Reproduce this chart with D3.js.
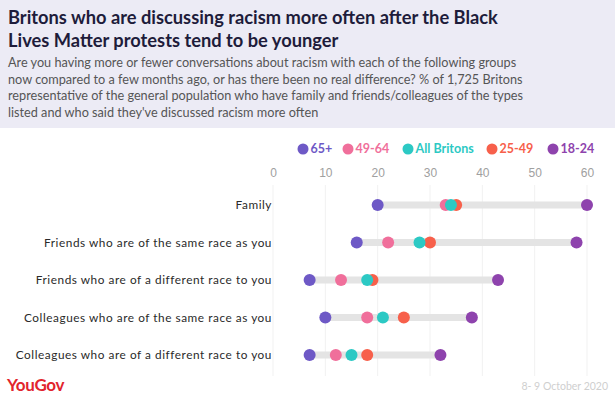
<!DOCTYPE html>
<html>
<head>
<meta charset="utf-8">
<title>Britons discussing racism</title>
<style>
body { margin: 0; background: #fff; }
svg { display: block; font-family: Lato, "Open Sans", sans-serif; }
.tick text { fill: #a0a0a0; font-size: 12px; font-weight: 300; }
.grid line { stroke: #f1f1f1; }
.cat { fill: #2a2a2a; font-size: 11.8px; letter-spacing: 0.55px; }
</style>
</head>
<body>
<script src="https://cdn.jsdelivr.net/npm/d3@7"></script>
<script>
// data
var categories = [
  "Family",
  "Friends who are of the same race as you",
  "Friends who are of a different race to you",
  "Colleagues who are of the same race as you",
  "Colleagues who are of a different race to you"
];
var seriesNames = ["65+", "49-64", "All Britons", "25-49", "18-24"];
var seriesColors = ["#6e59c6", "#f06f9b", "#2cc9c4", "#f7604b", "#8e43ad"];
var age65 = [20, 16, 7, 10, 7];
var age4964 = [33, 22, 13, 18, 12];
var allBritons = [34, 28, 18, 21, 15];
var age2549 = [35, 30, 19, 25, 18];
var age1824 = [60, 58, 43, 38, 32];
var ticks = [0, 10, 20, 30, 40, 50, 60];

var seriesValues = [age65, age4964, allBritons, age2549, age1824];
var drawOrder = [0, 1, 3, 4, 2];

var width = 615, height = 398;
var svg = d3.select("body").append("svg")
  .attr("width", width)
  .attr("height", height);

// header
svg.append("rect").attr("x", 0).attr("y", 0).attr("width", width).attr("height", 128)
  .attr("fill", "#ecebf5");

var title = ["Britons who are discussing racism more often after the Black",
             "Lives Matter protests tend to be younger"];
svg.selectAll(".title").data(title).enter().append("text")
  .attr("class", "title")
  .attr("x", 8).attr("y", function(d, i) { return 24 + i * 23; })
  .attr("fill", "#1e1c3b").attr("font-size", "18.3px").attr("font-weight", 700)
  .text(function(d) { return d; });

var sub = ["Are you having more or fewer conversations about racism with each of the following groups",
           "now compared to a few months ago, or has there been no real difference? % of 1,725 Britons",
           "representative of the general population who have family and friends/colleagues of the types",
           "listed and who said they've discussed racism more often"];
svg.selectAll(".sub").data(sub).enter().append("text")
  .attr("class", "sub")
  .attr("x", 8).attr("y", function(d, i) { return 67 + i * 16.5; })
  .attr("fill", "#555").attr("font-size", "12.7px")
  .text(function(d) { return d; });

// scales
var x = d3.scaleLinear().domain([0, 60]).range([273, 587]);
var y = d3.scalePoint().domain(categories).range([205, 355]);

// gridlines
svg.append("g").attr("class", "grid")
  .selectAll("line").data(ticks).enter().append("line")
  .attr("x1", function(d) { return x(d); }).attr("x2", function(d) { return x(d); })
  .attr("y1", 185).attr("y2", 376);

// axis
var axis = svg.append("g").attr("transform", "translate(0,173)")
  .call(d3.axisTop(x).tickValues(ticks).tickSize(0).tickPadding(0));
axis.select(".domain").remove();
axis.selectAll("text").attr("dy", "0.35em").attr("font-family", null).attr("font-size", null);

// legend
var legendX = [303, 348, 408, 492, 553];
var legend = svg.append("g");
seriesNames.forEach(function(n, i) {
  legend.append("circle").attr("cx", legendX[i]).attr("cy", 149).attr("r", 5.5)
    .attr("fill", seriesColors[i]);
  legend.append("text").attr("x", legendX[i] + 7.5).attr("y", 149).attr("dy", "0.35em")
    .attr("fill", seriesColors[i]).attr("font-size", "12.5px").attr("font-weight", 700)
    .text(n);
});

// category labels
svg.selectAll(".cat").data(categories).enter().append("text")
  .attr("class", "cat")
  .attr("x", 272).attr("y", function(d) { return y(d); }).attr("dy", "0.35em")
  .attr("text-anchor", "end")
  .text(function(d) { return d; });

// range bars
svg.selectAll(".bar").data(categories).enter().append("rect")
  .attr("class", "bar")
  .attr("x", function(d, i) { return x(d3.min(seriesValues, function(s) { return s[i]; })); })
  .attr("width", function(d, i) {
    return x(d3.max(seriesValues, function(s) { return s[i]; })) - x(d3.min(seriesValues, function(s) { return s[i]; }));
  })
  .attr("y", function(d) { return y(d) - 3.5; })
  .attr("height", 7)
  .attr("fill", "#e4e4e4");

// dots
drawOrder.forEach(function(si) {
  svg.append("g").selectAll("circle").data(seriesValues[si]).enter().append("circle")
    .attr("cx", function(d) { return x(d); })
    .attr("cy", function(d, i) { return y(categories[i]); })
    .attr("r", 6)
    .attr("fill", seriesColors[si]);
});

// footer
svg.append("text").attr("x", 7).attr("y", 391)
  .attr("fill", "#e2242d").attr("font-size", "17px").attr("font-weight", 700)
  .attr("letter-spacing", "-0.3px")
  .text("YouGov");
svg.append("text").attr("x", 608).attr("y", 390).attr("text-anchor", "end")
  .attr("fill", "#cfcfcf").attr("font-size", "10.5px")
  .text("8- 9 October 2020");
</script>
</body>
</html>
